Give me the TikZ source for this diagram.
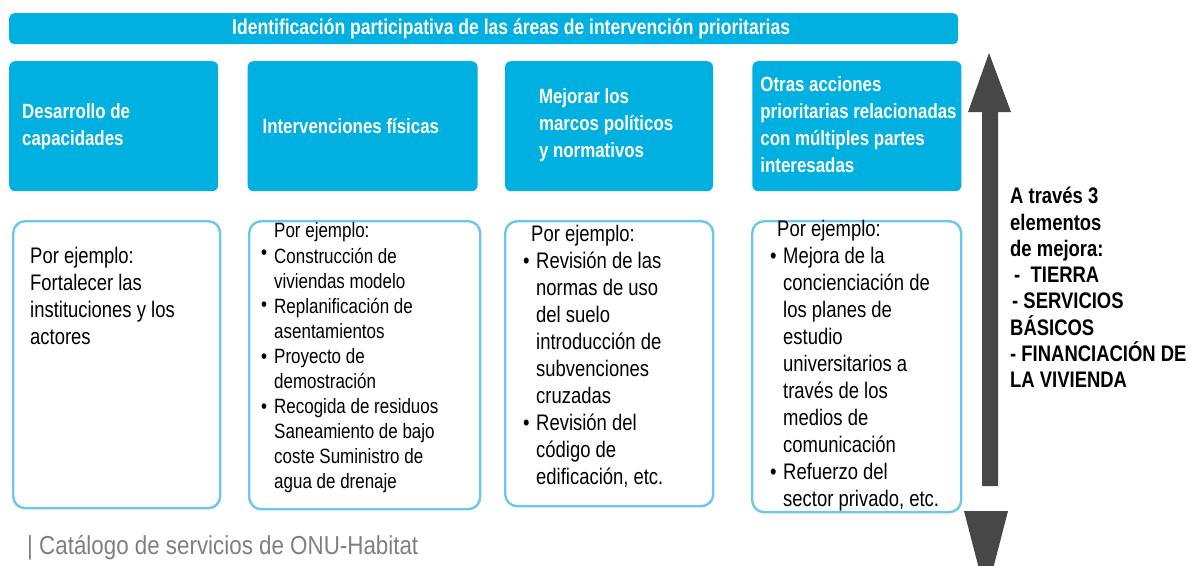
\documentclass[tikz,border=0pt]{standalone}
\usepackage{fontspec}
\setmainfont[FakeStretch=0.82]{Liberation Sans}
\newfontfamily\footfont[FakeStretch=0.86]{Liberation Sans}
\usetikzlibrary{positioning}
\definecolor{habitatblue}{HTML}{00B0E0}
\definecolor{exampleline}{HTML}{6CC7EC}
\definecolor{arrowgray}{HTML}{474747}
\definecolor{footgray}{HTML}{7F7F7F}
\newcommand{\bul}{\makebox[13pt][l]{\textbullet}}
\newcommand{\ind}{\hspace*{13pt}}

\begin{document}
\begin{tikzpicture}[x=1pt, y=-1pt,
  band/.style={fill=habitatblue, rounded corners=5pt, inner sep=0pt,
               minimum width=949pt, minimum height=31pt, anchor=north west},
  bandtext/.style={text=white, font=\bfseries\fontsize{21.4}{25}\selectfont, inner sep=0pt},
  areabox/.style={fill=habitatblue, rounded corners=6pt, inner sep=0pt,
                  minimum height=130pt},
  areatext/.style={text=white, font=\bfseries\fontsize{20.6}{27}\selectfont,
                   align=left, inner sep=0pt},
  examplebox/.style={draw=exampleline, line width=2.4pt, rounded corners=12pt,
                     inner sep=0pt, anchor=north west},
  exampletext/.style={font=\fontsize{22.5}{27}\selectfont, align=left,
                      inner sep=0pt, anchor=north west},
  sidetext/.style={font=\bfseries\fontsize{22.5}{26.3}\selectfont, align=left,
                   inner sep=0pt, anchor=north west},
  foot/.style={text=footgray, font=\footfont\fontsize{26}{30}\selectfont,
               inner sep=0pt, anchor=west}
]
\clip (0,0) rectangle (1198,565);

%% Banner
\node[band] (banner) at (9,13) {};
\node[bandtext, anchor=west, right=223pt of banner.west] (bannerT)
  {Identificación participativa de las áreas de intervención prioritarias};

%% Row 1: priority areas
\node[areabox, minimum width=209pt, anchor=north west] (cap) at (9,61) {};
\node[areabox, minimum width=230pt, right=29pt of cap] (fis) {};
\node[areabox, minimum width=208pt, right=27pt of fis] (pol) {};
\node[areabox, minimum width=209pt, right=39pt of pol] (otr) {};

\node[areatext, right=13pt of cap.west] (capT) {Desarrollo de\\capacidades};
\node[areatext, right=15pt of fis.west] (fisT) {Intervenciones físicas};
\node[areatext, right=34pt of pol.west, yshift=1.5pt] (polT)
  {Mejorar los\\marcos políticos\\y normativos};
\node[areatext, right=8pt of otr.west, yshift=1.5pt] (otrT)
  {Otras acciones\\prioritarias relacionadas\\con múltiples partes\\interesadas};

%% Row 2: examples
\node[examplebox, minimum width=207pt, minimum height=287pt] (ex1) at (12,220) {};
\node[examplebox, minimum width=231pt, minimum height=288pt] (ex2) at (248,220) {};
\node[examplebox, minimum width=208pt, minimum height=285pt] (ex3) at (504,220) {};
\node[examplebox, minimum width=209pt, minimum height=291pt] (ex4) at (751,220) {};

\node[exampletext] (ex1T) at (30,247)
  {Por ejemplo:\\Fortalecer las\\instituciones y los\\actores};
\node[exampletext, font=\fontsize{20.7}{25}\selectfont] (ex2T) at (261,222)
  {\ind Por ejemplo:\\[1.5pt]
   \raisebox{4pt}{\bul}Construcción de\\
   \ind viviendas modelo\\
   \raisebox{2pt}{\bul}Replanificación de\\
   \ind asentamientos\\
   \bul Proyecto de\\
   \ind demostración\\
   \bul Recogida de residuos\\
   \ind Saneamiento de bajo\\
   \ind coste Suministro de\\
   \ind agua de drenaje};
\node[exampletext] (ex3T) at (523,225)
  {\hspace*{8pt}Por ejemplo:\\
   \bul Revisión de las\\
   \ind normas de uso\\
   \ind del suelo\\
   \ind introducción de\\
   \ind subvenciones\\
   \ind cruzadas\\
   \bul Revisión del\\
   \ind código de\\
   \ind edificación, etc.};
\node[exampletext] (ex4T) at (770,220)
  {\hspace*{7pt}Por ejemplo:\\
   \bul Mejora de la\\
   \ind concienciación de\\
   \ind los planes de\\
   \ind estudio\\
   \ind universitarios a\\
   \ind través de los\\
   \ind medios de\\
   \ind comunicación\\
   \bul Refuerzo del\\
   \ind sector privado, etc.};

%% Improvement elements
\node[sidetext] (via) at (1010,187)
  {A través 3\\elementos\\de mejora:\\
   \hspace*{4pt}-\ \ TIERRA\\
   \hspace*{2pt}- SERVICIOS\\
   BÁSICOS\\
   - FINANCIACIÓN DE\\
   LA VIVIENDA};

%% Vertical arrow
\fill[arrowgray] (989,53) -- (1011,112) -- (998,112) -- (998,486)
  -- (982,486) -- (982,112) -- (968,112) -- cycle;
\fill[arrowgray] (964,511) -- (1008,511) -- (986,596) -- cycle;

%% Source
\node[foot] (src) at (27,548) {| Catálogo de servicios de ONU-Habitat};

\end{tikzpicture}
\end{document}
